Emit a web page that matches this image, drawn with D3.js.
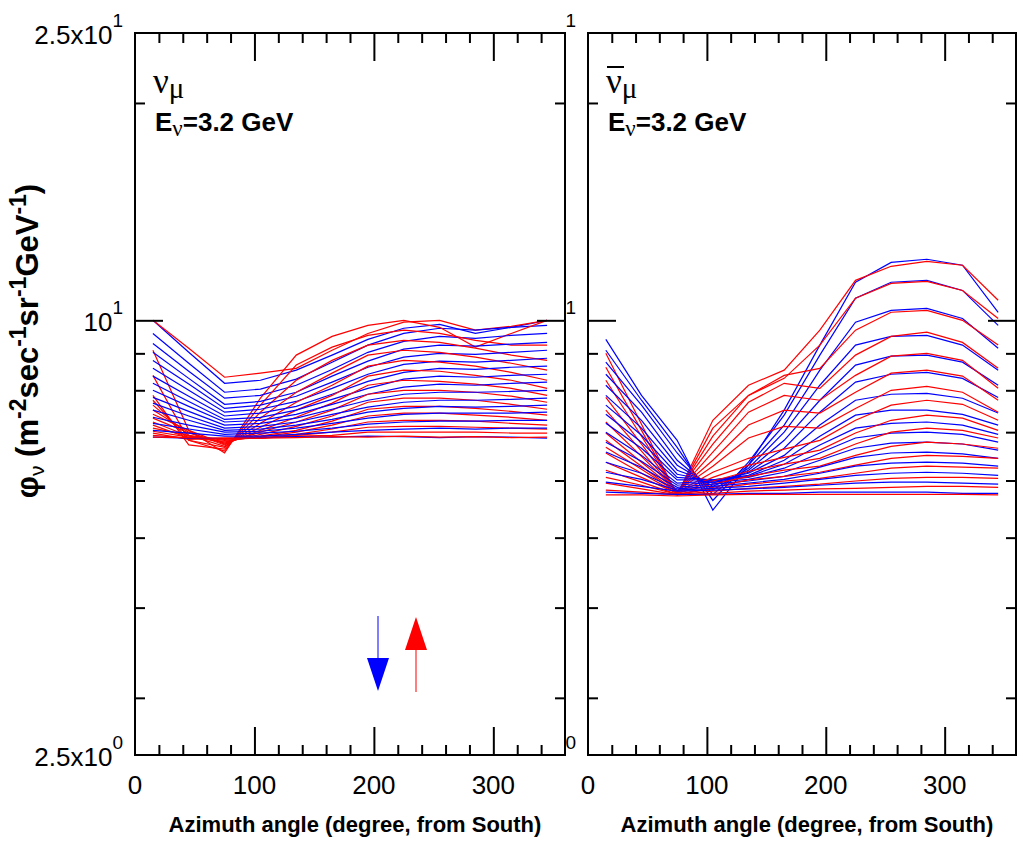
<!DOCTYPE html>
<html>
<head>
<meta charset="utf-8">
<script src="https://cdn.jsdelivr.net/npm/d3@7"></script>
<style>
  body { margin: 0; background: #fff; }
  svg { display: block; font-family: "Liberation Sans", Arial, sans-serif; }
</style>
</head>
<body>
<svg id="chart" width="1017" height="842"></svg>
<script>
// Azimuth bins (degree, from South)
const azimuth = [15, 45, 75, 105, 135, 165, 195, 225, 255, 285, 315, 345];

// Axis ticks and labels
const xTickLabels = [0, 100, 200, 300];
const xMajorTicks = [100, 200, 300];
const xMinorTicks = [20, 40, 60, 80, 120, 140, 160, 180, 220, 240, 260, 280, 320, 340];
const yMajorTicks = [10];
const yMinorTicks = [3, 4, 5, 6, 7, 8, 9, 20];
const yLabelValues = [25, 10, 2.5];
const yLabelMantissa = ["2.5x10", "10", "2.5x10"];
const yLabelExponent = ["1", "1", "0"];

// nu_mu, downward going (blue), one row per zenith bin
const numuDown = [
  [10.00, 9.03, 8.18, 8.26, 8.53, 8.95, 9.41, 9.75, 9.87, 9.59, 9.78, 10.00],
  [9.59, 8.72, 7.95, 8.03, 8.29, 8.75, 9.24, 9.59, 9.75, 9.69, 9.78, 9.84],
  [9.29, 8.50, 7.80, 7.87, 8.13, 8.55, 9.03, 9.35, 9.50, 9.44, 9.53, 9.59],
  [9.03, 8.31, 7.65, 7.72, 7.95, 8.37, 8.78, 9.12, 9.24, 9.21, 9.27, 9.32],
  [8.80, 8.16, 7.55, 7.63, 7.85, 8.21, 8.61, 8.89, 9.00, 8.97, 9.03, 9.09],
  [8.58, 8.00, 7.46, 7.53, 7.72, 8.05, 8.42, 8.69, 8.78, 8.75, 8.80, 8.86],
  [8.37, 7.85, 7.37, 7.44, 7.60, 7.90, 8.23, 8.47, 8.58, 8.55, 8.61, 8.64],
  [8.18, 7.72, 7.29, 7.34, 7.51, 7.77, 8.05, 8.29, 8.37, 8.34, 8.39, 8.42],
  [8.00, 7.60, 7.23, 7.27, 7.41, 7.65, 7.90, 8.08, 8.16, 8.13, 8.18, 8.21],
  [7.82, 7.48, 7.16, 7.20, 7.32, 7.53, 7.75, 7.90, 7.95, 7.95, 7.97, 8.00],
  [7.68, 7.37, 7.09, 7.13, 7.23, 7.41, 7.58, 7.70, 7.75, 7.75, 7.77, 7.80],
  [7.51, 7.27, 7.04, 7.07, 7.16, 7.29, 7.46, 7.55, 7.60, 7.58, 7.60, 7.63],
  [7.34, 7.16, 7.00, 7.02, 7.09, 7.20, 7.32, 7.41, 7.44, 7.44, 7.44, 7.46],
  [7.20, 7.07, 6.95, 6.98, 7.02, 7.09, 7.18, 7.23, 7.25, 7.25, 7.27, 7.27],
  [7.04, 6.98, 6.91, 6.91, 6.95, 7.00, 7.04, 7.07, 7.09, 7.07, 7.09, 7.09],
  [6.89, 6.87, 6.86, 6.88, 6.90, 6.89, 6.91, 6.90, 6.88, 6.90, 6.89, 6.87]
];

// nu_mu, upward going (red)
const numuUp = [
  [10.00, 9.15, 8.34, 8.45, 8.58, 9.09, 9.59, 9.94, 10.00, 9.69, 9.81, 10.00],
  [9.09, 7.04, 6.55, 7.80, 8.95, 9.50, 9.84, 10.00, 9.78, 9.18, 9.59, 10.00],
  [8.39, 6.82, 6.59, 7.63, 8.67, 9.18, 9.53, 9.69, 9.59, 9.38, 9.24, 9.24],
  [7.87, 6.72, 6.63, 7.46, 8.26, 8.80, 9.24, 9.38, 9.32, 9.15, 8.95, 8.80],
  [7.75, 6.82, 6.67, 7.32, 7.95, 8.45, 8.95, 9.09, 9.03, 8.89, 8.72, 8.53],
  [7.63, 6.93, 6.69, 7.20, 7.70, 8.13, 8.64, 8.80, 8.75, 8.64, 8.47, 8.26],
  [7.51, 7.00, 6.72, 7.11, 7.51, 7.87, 8.37, 8.53, 8.50, 8.39, 8.26, 8.05],
  [7.41, 7.04, 6.74, 7.04, 7.34, 7.68, 8.13, 8.26, 8.23, 8.16, 8.05, 7.87],
  [7.32, 6.98, 6.76, 7.00, 7.23, 7.51, 7.90, 8.00, 8.00, 7.95, 7.85, 7.70],
  [7.23, 6.91, 6.78, 6.95, 7.13, 7.37, 7.70, 7.80, 7.80, 7.75, 7.65, 7.53],
  [7.16, 6.87, 6.80, 6.91, 7.04, 7.25, 7.53, 7.60, 7.60, 7.55, 7.48, 7.39],
  [7.09, 6.93, 6.82, 6.89, 7.00, 7.16, 7.37, 7.44, 7.44, 7.39, 7.34, 7.27],
  [7.02, 6.89, 6.84, 6.87, 6.95, 7.07, 7.23, 7.27, 7.27, 7.25, 7.20, 7.16],
  [6.98, 6.84, 6.87, 6.87, 6.93, 7.00, 7.11, 7.13, 7.13, 7.11, 7.09, 7.07],
  [6.93, 6.87, 6.87, 6.87, 6.91, 6.93, 7.00, 7.00, 7.00, 7.00, 6.98, 6.98],
  [6.89, 6.88, 6.86, 6.87, 6.88, 6.90, 6.89, 6.91, 6.89, 6.90, 6.88, 6.89]
];

// anti nu_mu, downward going (blue)
const numubarDown = [
  [9.41, 7.87, 6.82, 5.46, 6.30, 7.51, 9.24, 11.29, 12.03, 12.15, 11.92, 10.26],
  [9.09, 7.75, 6.67, 5.63, 6.36, 7.39, 8.95, 10.73, 11.29, 11.36, 11.00, 9.84],
  [8.75, 7.63, 6.55, 5.74, 6.30, 7.16, 8.53, 9.94, 10.32, 10.39, 10.06, 9.15],
  [8.42, 7.46, 6.40, 5.82, 6.24, 7.00, 8.13, 9.24, 9.50, 9.53, 9.24, 8.53],
  [8.13, 7.27, 6.30, 5.89, 6.20, 6.82, 7.75, 8.67, 8.92, 8.95, 8.75, 8.13],
  [7.87, 7.09, 6.20, 5.95, 6.16, 6.65, 7.46, 8.21, 8.42, 8.47, 8.31, 7.82],
  [7.63, 6.93, 6.12, 5.99, 6.14, 6.50, 7.16, 7.75, 7.90, 7.92, 7.80, 7.44],
  [7.41, 6.78, 6.06, 6.01, 6.10, 6.40, 6.91, 7.39, 7.51, 7.51, 7.41, 7.16],
  [7.20, 6.65, 6.01, 6.01, 6.08, 6.32, 6.72, 7.09, 7.20, 7.23, 7.16, 6.95],
  [7.00, 6.50, 5.95, 5.99, 6.06, 6.24, 6.55, 6.87, 6.98, 7.00, 6.95, 6.78],
  [6.78, 6.38, 5.91, 5.97, 6.02, 6.16, 6.40, 6.65, 6.76, 6.78, 6.74, 6.61],
  [6.57, 6.26, 5.87, 5.93, 5.99, 6.08, 6.26, 6.46, 6.55, 6.57, 6.53, 6.44],
  [6.36, 6.14, 5.84, 5.89, 5.95, 6.02, 6.14, 6.28, 6.34, 6.36, 6.34, 6.28],
  [6.16, 6.02, 5.82, 5.85, 5.89, 5.95, 6.02, 6.10, 6.14, 6.16, 6.14, 6.10],
  [5.97, 5.89, 5.80, 5.82, 5.84, 5.87, 5.91, 5.95, 5.97, 5.97, 5.95, 5.93],
  [5.78, 5.76, 5.74, 5.74, 5.76, 5.76, 5.78, 5.78, 5.78, 5.78, 5.76, 5.76]
];

// anti nu_mu, upward going (red)
const numubarUp = [
  [9.00, 7.18, 5.73, 7.27, 8.13, 8.53, 9.69, 11.36, 11.88, 12.07, 11.92, 10.66],
  [8.61, 7.04, 5.74, 7.09, 7.87, 8.31, 9.24, 10.73, 11.25, 11.32, 11.00, 10.06],
  [8.26, 6.91, 5.76, 6.91, 7.87, 8.39, 8.58, 9.69, 10.26, 10.32, 10.00, 9.24],
  [7.82, 6.74, 5.78, 6.74, 7.70, 8.18, 8.05, 8.95, 9.50, 9.63, 9.32, 8.58],
  [7.51, 6.59, 5.78, 6.57, 7.46, 7.87, 7.75, 8.39, 8.92, 9.00, 8.80, 8.05],
  [7.23, 6.48, 5.80, 6.40, 7.16, 7.51, 7.44, 7.95, 8.45, 8.53, 8.37, 7.75],
  [6.98, 6.36, 5.80, 6.28, 6.87, 7.13, 7.09, 7.55, 8.00, 8.10, 7.95, 7.46],
  [6.82, 6.28, 5.78, 6.16, 6.44, 6.63, 6.82, 7.27, 7.63, 7.75, 7.65, 7.27],
  [6.67, 6.22, 5.78, 6.06, 6.30, 6.46, 6.61, 6.98, 7.27, 7.39, 7.32, 7.04],
  [6.55, 6.14, 5.76, 5.99, 6.18, 6.32, 6.44, 6.74, 7.00, 7.09, 7.04, 6.87],
  [6.36, 6.06, 5.76, 5.93, 6.08, 6.20, 6.28, 6.50, 6.69, 6.78, 6.74, 6.65],
  [6.20, 5.97, 5.74, 5.87, 6.01, 6.08, 6.16, 6.30, 6.44, 6.50, 6.48, 6.44],
  [6.06, 5.91, 5.74, 5.84, 5.93, 5.99, 6.04, 6.14, 6.24, 6.28, 6.26, 6.24],
  [5.95, 5.84, 5.73, 5.80, 5.85, 5.89, 5.93, 5.99, 6.04, 6.06, 6.06, 6.04],
  [5.82, 5.78, 5.73, 5.76, 5.80, 5.82, 5.84, 5.85, 5.87, 5.89, 5.89, 5.87],
  [5.73, 5.73, 5.71, 5.73, 5.74, 5.74, 5.74, 5.74, 5.74, 5.74, 5.74, 5.73]
];

const svg = d3.select("#chart");
const TOP = 33, BOTTOM = 755;

// Panels: right one drawn first, the left one covers its tick labels (as in the original)
const panels = [
  { x0: 588, x1: 1016, down: numubarDown, up: numubarUp, bar: true, cover: false },
  { x0: 135, x1: 565, down: numuDown, up: numuUp, bar: false, cover: true }
];

function addTicks(g, axis, tr) {
  g.append("g")
    .attr("transform", tr)
    .call(axis)
    .call(a => a.select(".domain").remove())
    .call(a => a.selectAll(".tick line").attr("stroke", "#000").attr("stroke-width", 2))
    .call(a => a.selectAll(".tick text").remove());
}

function drawPanel(p) {
  const g = svg.append("g");

  if (p.cover) {
    g.append("rect")
      .attr("x", 0).attr("y", 0)
      .attr("width", p.x1 + 1).attr("height", 842)
      .attr("fill", "#fff");
  }

  const x = d3.scaleLinear().domain([0, 360]).range([p.x0, p.x1]);
  const y = d3.scaleLog().domain([2.5, 25]).range([BOTTOM, TOP]);

  const line = d3.line()
    .x((d, i) => x(azimuth[i]))
    .y(d => y(d));

  // curves: blue (down) and red (up), interleaved bin by bin
  const curves = g.append("g").attr("fill", "none").attr("stroke-width", 1.2);
  p.down.forEach((row, k) => {
    curves.append("path").attr("d", line(row)).attr("stroke", "#0000ff");
    curves.append("path").attr("d", line(p.up[k])).attr("stroke", "#ff0000");
  });

  // frame
  g.append("rect")
    .attr("x", p.x0).attr("y", TOP)
    .attr("width", p.x1 - p.x0).attr("height", BOTTOM - TOP)
    .attr("fill", "none").attr("stroke", "#000").attr("stroke-width", 2);

  // ticks pointing inward on all four sides
  addTicks(g, d3.axisTop(x).tickValues(xMinorTicks).tickSize(10).tickSizeOuter(0), `translate(0,${BOTTOM})`);
  addTicks(g, d3.axisTop(x).tickValues(xMajorTicks).tickSize(28).tickSizeOuter(0), `translate(0,${BOTTOM})`);
  addTicks(g, d3.axisBottom(x).tickValues(xMinorTicks).tickSize(10).tickSizeOuter(0), `translate(0,${TOP})`);
  addTicks(g, d3.axisBottom(x).tickValues(xMajorTicks).tickSize(28).tickSizeOuter(0), `translate(0,${TOP})`);
  addTicks(g, d3.axisRight(y).tickValues(yMinorTicks).tickSize(10).tickSizeOuter(0), `translate(${p.x0},0)`);
  addTicks(g, d3.axisRight(y).tickValues(yMajorTicks).tickSize(28).tickSizeOuter(0), `translate(${p.x0},0)`);
  addTicks(g, d3.axisLeft(y).tickValues(yMinorTicks).tickSize(10).tickSizeOuter(0), `translate(${p.x1},0)`);
  addTicks(g, d3.axisLeft(y).tickValues(yMajorTicks).tickSize(28).tickSizeOuter(0), `translate(${p.x1},0)`);

  // x tick labels
  g.selectAll(".xlab")
    .data(xTickLabels)
    .enter()
    .append("text")
    .attr("x", d => x(d))
    .attr("y", 794)
    .attr("text-anchor", "middle")
    .attr("font-size", 26)
    .text(d => d);

  // y tick labels, a x 10^n
  yLabelValues.forEach((v, i) => {
    const t = g.append("text")
      .attr("x", p.x0 - 12)
      .attr("y", y(v) + 11)
      .attr("text-anchor", "end")
      .attr("font-size", 26);
    t.append("tspan").text(yLabelMantissa[i]);
    t.append("tspan").attr("dy", -17).attr("font-size", 19).text(yLabelExponent[i]);
  });

  // x title
  g.append("text")
    .attr("x", (p.x0 + p.x1) / 2 + 5)
    .attr("y", 832)
    .attr("text-anchor", "middle")
    .attr("font-size", 22)
    .attr("font-weight", "bold")
    .text("Azimuth angle (degree, from South)");

  // particle name
  const nx = p.x0 + 18;
  const nm = g.append("text")
    .attr("x", nx)
    .attr("y", 93)
    .attr("font-family", "'Liberation Serif', 'DejaVu Serif', serif");
  nm.append("tspan").attr("font-size", 35).text("ν");
  nm.append("tspan").attr("font-size", 29).attr("dy", 5).text("μ");
  if (p.bar) {
    g.append("line")
      .attr("x1", nx + 1).attr("x2", nx + 18)
      .attr("y1", 67).attr("y2", 67)
      .attr("stroke", "#000").attr("stroke-width", 2);
  }

  const en = g.append("text")
    .attr("x", p.x0 + 20)
    .attr("y", 131)
    .attr("font-size", 26)
    .attr("font-weight", "bold");
  en.append("tspan").text("E");
  en.append("tspan")
    .attr("font-family", "'Liberation Serif', serif")
    .attr("font-weight", "normal")
    .attr("font-size", 23)
    .attr("dy", 5)
    .text("ν");
  en.append("tspan").attr("dy", -5).text("=3.2 GeV");

  return { x, y };
}

panels.forEach(drawPanel);

// y title
const yt = svg.append("text")
  .attr("transform", "translate(38,341) rotate(-90)")
  .attr("text-anchor", "middle")
  .attr("font-size", 31)
  .attr("font-weight", "bold");
yt.append("tspan").text("φ");
yt.append("tspan").attr("font-size", 21).attr("font-weight", "normal").attr("dy", 6).text("ν");
yt.append("tspan").attr("dy", -6).text(" (m");
yt.append("tspan").attr("font-size", 23).attr("dy", -12).text("-2");
yt.append("tspan").attr("dy", 12).text("sec");
yt.append("tspan").attr("font-size", 23).attr("dy", -12).text("-1");
yt.append("tspan").attr("dy", 12).text("sr");
yt.append("tspan").attr("font-size", 23).attr("dy", -12).text("-1");
yt.append("tspan").attr("dy", 12).text("GeV");
yt.append("tspan").attr("font-size", 23).attr("dy", -12).text("-1");
yt.append("tspan").attr("dy", 12).text(")");

// direction arrows in the left panel
const arrows = svg.append("g");
arrows.append("line")
  .attr("x1", 378).attr("x2", 378).attr("y1", 616).attr("y2", 660)
  .attr("stroke", "#7f7fff").attr("stroke-width", 2);
arrows.append("path")
  .attr("d", "M367,658 L389,658 L378,691 Z")
  .attr("fill", "#0000ff");
arrows.append("line")
  .attr("x1", 416).attr("x2", 416).attr("y1", 648).attr("y2", 692)
  .attr("stroke", "#ff7f7f").attr("stroke-width", 2);
arrows.append("path")
  .attr("d", "M405,650 L427,650 L416,617 Z")
  .attr("fill", "#ff0000");
</script>
</body>
</html>
